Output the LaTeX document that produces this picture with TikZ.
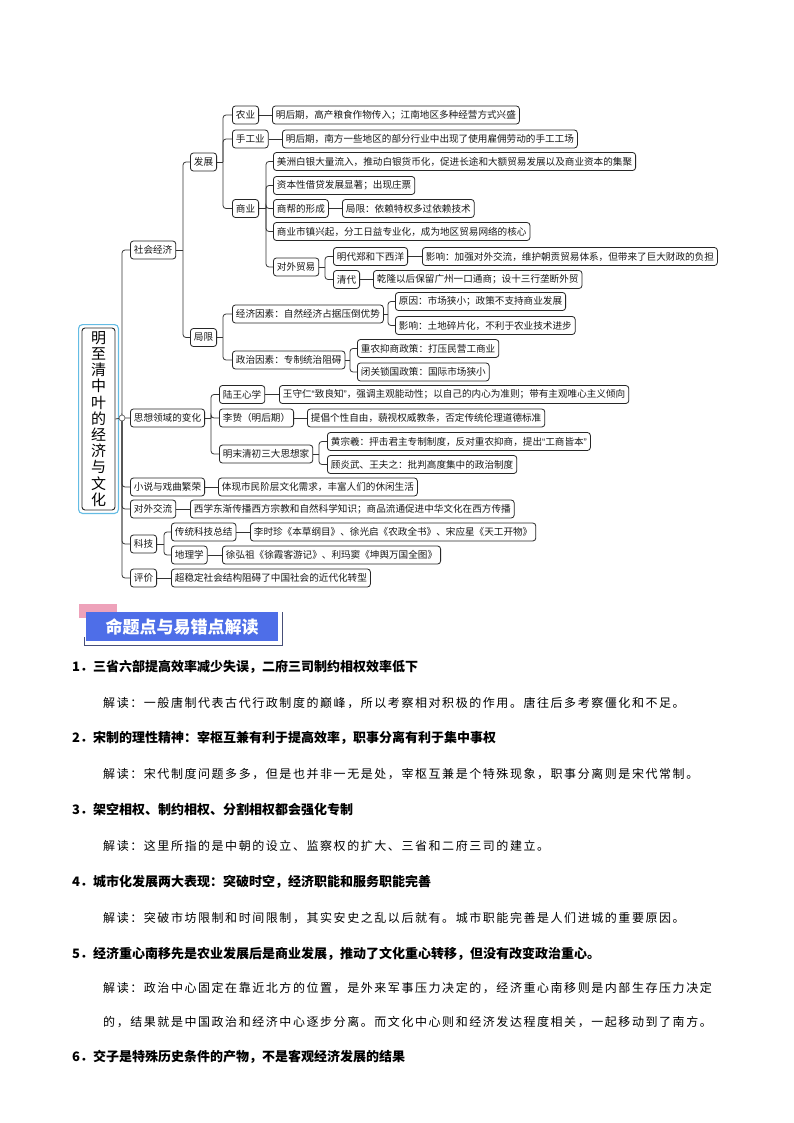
\documentclass[tikz,border=0pt]{standalone}
\usepackage{fontspec}
\newfontfamily\cjk{Noto Sans CJK SC}
\newfontfamily\cjkls{Noto Sans CJK SC}[LetterSpace=13]
\newfontfamily\qf{Liberation Sans}
\newcommand\myLQ{{\qf “}}
\newcommand\myRQ{{\qf ”}}
\definecolor{hdblue}{RGB}{78,110,232}
\definecolor{hdpink}{RGB}{238,162,186}
\definecolor{rootblue}{RGB}{100,188,228}
\definecolor{framec}{RGB}{70,78,120}
\tikzset{
  bx/.style={draw=black!85, line width=0.8pt, rounded corners=3pt, fill=white,
    font=\cjk\fontsize{9.6}{11}\selectfont, text=black!90, inner xsep=3.5pt,
    inner ysep=0pt, minimum height=18pt, anchor=west},
  conn/.style={draw=black!80, line width=0.8pt, rounded corners=3pt},
  hd/.style={anchor=west, inner sep=0pt, font=\cjk\bfseries\fontsize{13}{15}\selectfont},
  ex/.style={anchor=west, inner sep=0pt, font=\cjkls\fontsize{12}{14}\selectfont},
}
\newcommand\fork[3]{%
  \coordinate (tmpx) at (#2,0);
  \coordinate (#1-j) at (#1.east -| tmpx);
  \draw[conn] (#1.east) -- (#1-j);
  \foreach \c in {#3}{\draw[conn] (#1-j) |- (\c.west);}
}
\newcommand\lnk[2]{\draw[conn] (#1.east) -- (#2.west);}
\begin{document}
\begin{tikzpicture}[x=1pt,y=-1pt]
\useasboundingbox (0,0) rectangle (794,1123);
\fill[white] (0,0) rectangle (794,1123);

% ---------- root ----------
\node[draw=black!85, line width=0.9pt, rounded corners=3pt, fill=white,
  minimum width=33pt, minimum height=182pt, inner sep=0pt, align=center,
  font=\cjk\fontsize{15}{16.2}\selectfont] (root) at (98.5,419)
  {明\\至\\清\\中\\叶\\的\\经\\济\\与\\文\\化};
\draw[rootblue, line width=1.1pt, rounded corners=4pt]
  ([shift={(-3,-3)}]root.north west) rectangle ([shift={(3,3)}]root.south east);

% ---------- level 1 ----------
\node[bx] (sj) at (130,250) {社会经济};
\node[bx] (sx) at (130,418) {思想领域的变化};
\node[bx] (xs) at (130,487) {小说与戏曲繁荣};
\node[bx] (dw) at (130,509) {对外交流};
\node[bx] (kj) at (130,544) {科技};
\node[bx] (pj) at (130,578) {评价};

% ---------- 社会经济 ----------
\node[bx] (fz) at (190,162) {发展};
\node[bx] (jx) at (190,337.5) {局限};
\node[bx] (ny) at (232,115) {农业};
\node[bx] (sg) at (232,139) {手工业};
\node[bx] (sy) at (232,208.5) {商业};
\node[bx] (nyL) at (272,115) {明后期，高产粮食作物传入；江南地区多种经营方式兴盛};
\node[bx] (sgL) at (282,139) {明后期，南方一些地区的部分行业中出现了使用雇佣劳动的手工工场};
\node[bx] (sy1) at (273,161.5) {美洲白银大量流入，推动白银货币化，促进长途和大额贸易发展以及商业资本的集聚};
\node[bx] (sy2) at (273,185.5) {资本性借贷发展显著；出现庄票};
\node[bx] (sy3) at (273,208.5) {商帮的形成};
\node[bx] (sy3L) at (342,208.5) {局限：依赖特权多过依赖技术};
\node[bx] (sy4) at (273,231.5) {商业市镇兴起，分工日益专业化，成为地区贸易网络的核心};
\node[bx] (sy5) at (273,267) {对外贸易};
\node[bx] (zh) at (333,256.5) {明代郑和下西洋};
\node[bx] (zhL) at (422,256.5) {影响：加强对外交流，维护朝贡贸易体系，但带来了巨大财政的负担};
\node[bx] (qd) at (333,279.5) {清代};
\node[bx] (qdL) at (373,279.5) {乾隆以后保留广州一口通商；设十三行垄断外贸};
\node[bx] (jj) at (232,314) {经济因素：自然经济占据压倒优势};
\node[bx] (jj1) at (395,301.5) {原因：市场狭小；政策不支持商业发展};
\node[bx] (jj2) at (395,325.5) {影响：土地碎片化，不利于农业技术进步};
\node[bx] (zz) at (232,360) {政治因素：专制统治阻碍};
\node[bx] (zz1) at (357,348.5) {重农抑商政策：打压民营工商业};
\node[bx] (zz2) at (357,372) {闭关锁国政策：国际市场狭小};

% ---------- 思想 ----------
\node[bx] (lw) at (219,394.5) {陆王心学};
\node[bx] (lwL) at (279,394.5) {王守仁\myLQ 致良知\myRQ，强调主观能动性；以自己的内心为准则；带有主观唯心主义倾向};
\node[bx] (lz) at (219,418) {李贽（明后期）};
\node[bx] (lzL) at (307,418) {提倡个性自由，藐视权威教条，否定传统伦理道德标准};
\node[bx] (mm) at (219,454) {明末清初三大思想家};
\node[bx] (mm1) at (327,441.5) {黄宗羲：抨击君主专制制度，反对重农抑商，提出\myLQ 工商皆本\myRQ};
\node[bx] (mm2) at (327,464.5) {顾炎武、王夫之：批判高度集中的政治制度};

% ---------- others ----------
\node[bx] (xsL) at (218,487) {体现市民阶层文化需求，丰富人们的休闲生活};
\node[bx] (dwL) at (190,509) {西学东渐传播西方宗教和自然科学知识；商品流通促进中华文化在西方传播};
\node[bx] (kj1) at (171,532) {传统科技总结};
\node[bx] (kj1L) at (250,532) {李时珍《本草纲目》、徐光启《农政全书》、宋应星《天工开物》};
\node[bx] (kj2) at (171,555) {地理学};
\node[bx] (kj2L) at (222,555) {徐弘祖《徐霞客游记》、利玛窦《坤舆万国全图》};
\node[bx] (pjL) at (171,578) {超稳定社会结构阻碍了中国社会的近代化转型};

% ---------- connectors ----------
\coordinate (cc) at (122,418);
\draw[conn] (root.east) -- (cc);
\foreach \c in {sj,sx,xs,dw,kj,pj}{\draw[conn] (cc) |- (\c.west);}
\fork{sj}{183}{fz,jx}
\fork{fz}{223}{ny,sg,sy}
\fork{jx}{223}{jj,zz}
\lnk{ny}{nyL}
\lnk{sg}{sgL}
\fork{sy}{266}{sy1,sy2,sy3,sy4,sy5}
\lnk{sy3}{sy3L}
\fork{sy5}{325}{zh,qd}
\lnk{zh}{zhL}
\lnk{qd}{qdL}
\fork{jj}{388}{jj1,jj2}
\fork{zz}{350}{zz1,zz2}
\fork{sx}{211}{lw,lz,mm}
\lnk{lw}{lwL}
\lnk{lz}{lzL}
\fork{mm}{319}{mm1,mm2}
\lnk{xs}{xsL}
\lnk{dw}{dwL}
\fork{kj}{164}{kj1,kj2}
\lnk{kj1}{kj1L}
\lnk{kj2}{kj2L}
\lnk{pj}{pjL}
\node[circle, draw=black!60, line width=0.7pt, fill=white, inner sep=0pt, minimum size=6pt] (ccn) at (cc) {};

% ---------- heading box ----------
\fill[hdpink] (79,604) rectangle (117,618);
\draw[framec, line width=0.9pt] (84,637) -- (84,645.5) -- (282,645.5) -- (282,612);
\node[fill=hdblue, minimum width=192pt, minimum height=29pt, inner sep=0pt,
  text=white, font=\cjk\bfseries\fontsize{17}{19}\selectfont] (hdbox) at (182,626.5) {命题点与易错点解读};

% ---------- body text ----------
\node[hd] (t1) at (72,667) {1．三省六部提高效率减少失误，二府三司制约相权效率低下};
\node[ex] (e1) at (103,703) {解读：一般唐制代表古代行政制度的巅峰，所以考察相对积极的作用。唐往后多考察僵化和不足。};
\node[hd] (t2) at (72,738) {2．宋制的理性精神：宰枢互兼有利于提高效率，职事分离有利于集中事权};
\node[ex] (e2) at (103,774) {解读：宋代制度问题多多，但是也并非一无是处，宰枢互兼是个特殊现象，职事分离则是宋代常制。};
\node[hd] (t3) at (72,810) {3．架空相权、制约相权、分割相权都会强化专制};
\node[ex] (e3) at (103,846) {解读：这里所指的是中朝的设立、监察权的扩大、三省和二府三司的建立。};
\node[hd] (t4) at (72,882) {4．城市化发展两大表现：突破时空，经济职能和服务职能完善};
\node[ex] (e4) at (103,918) {解读：突破市坊限制和时间限制，其实安史之乱以后就有。城市职能完善是人们进城的重要原因。};
\node[hd] (t5) at (72,954) {5．经济重心南移先是农业发展后是商业发展，推动了文化重心转移，但没有改变政治重心。};
\node[ex] (e5a) at (103,988) {解读：政治中心固定在靠近北方的位置，是外来军事压力决定的，经济重心南移则是内部生存压力决定};
\node[ex] (e5b) at (103,1022) {的，结果就是中国政治和经济中心逐步分离。而文化中心则和经济发达程度相关，一起移动到了南方。};
\node[hd] (t6) at (72,1057) {6．交子是特殊历史条件的产物，不是客观经济发展的结果};
\end{tikzpicture}
\end{document}
